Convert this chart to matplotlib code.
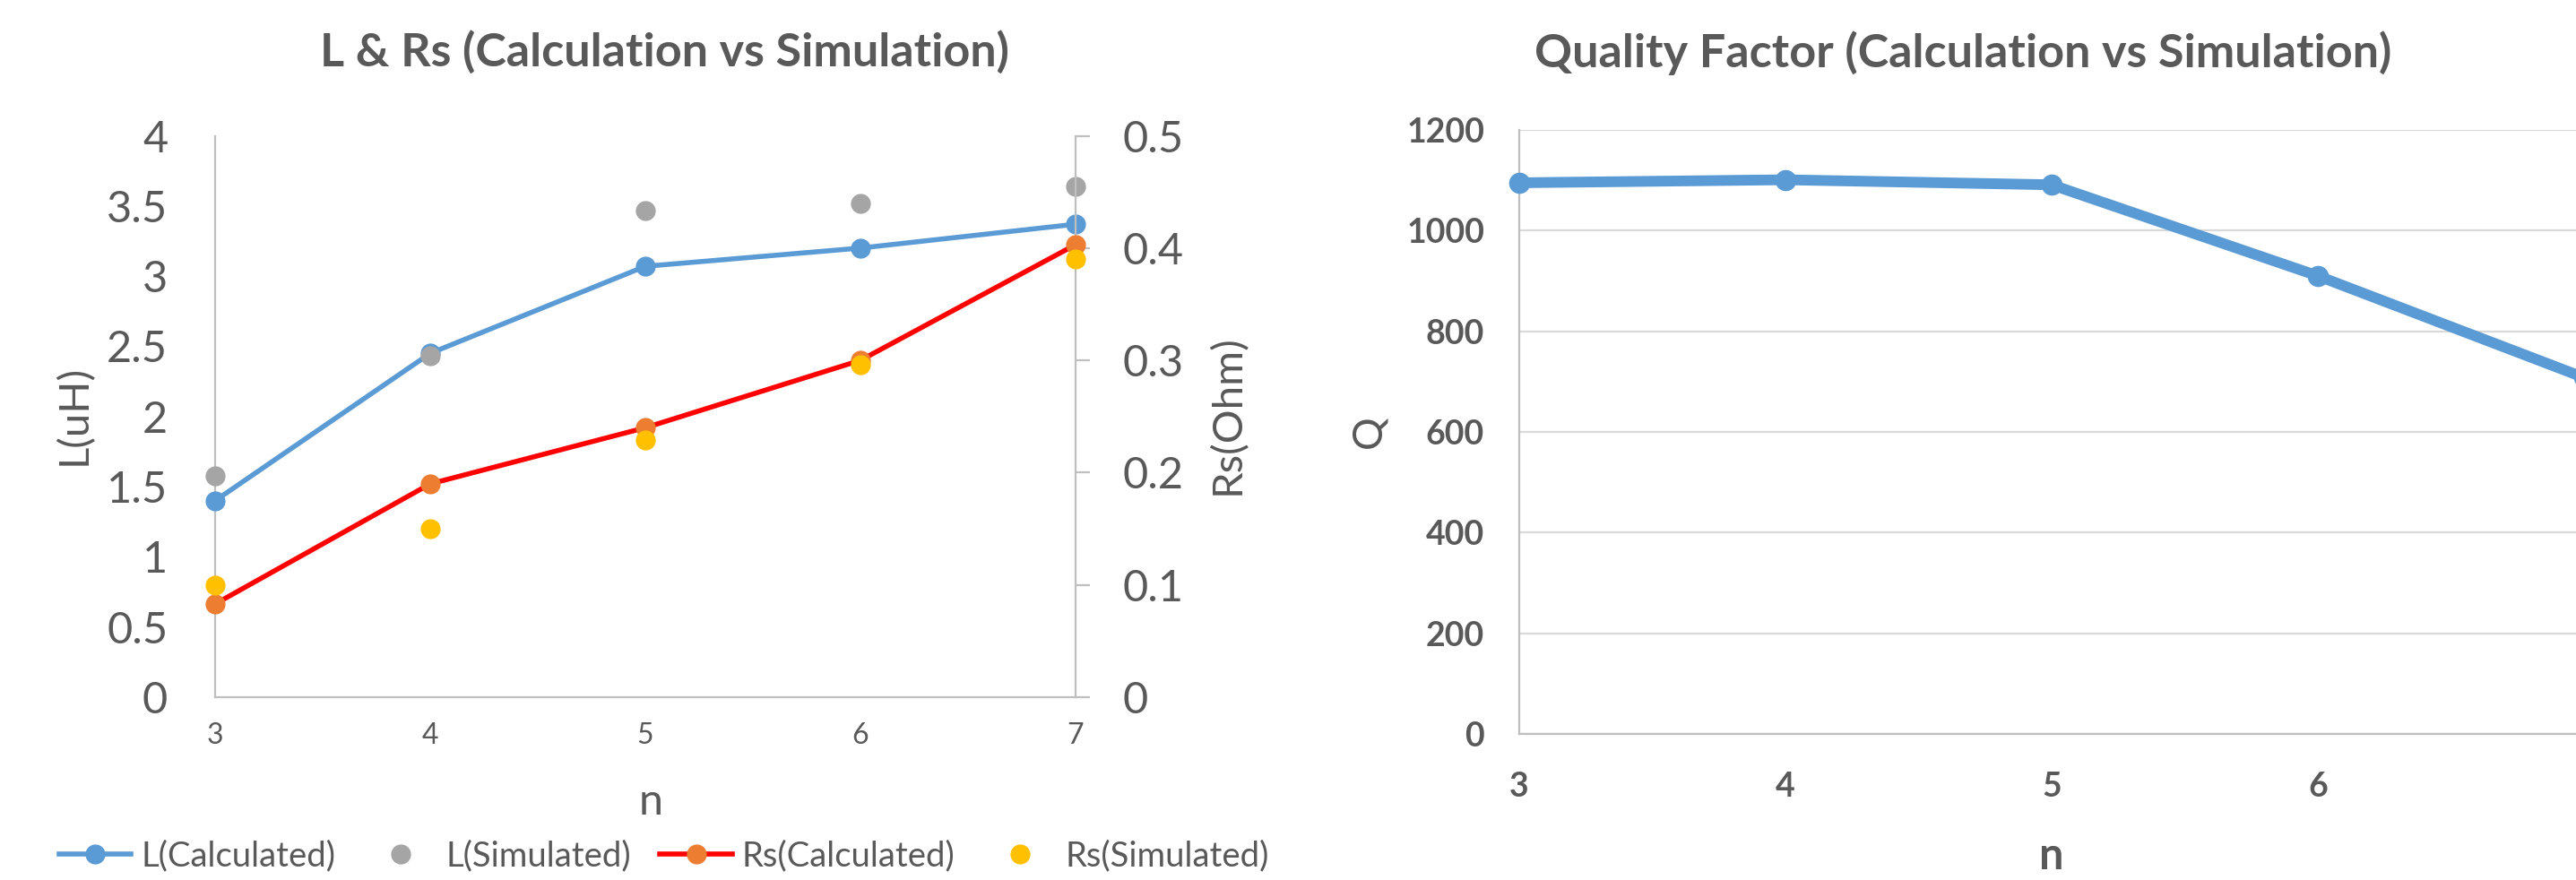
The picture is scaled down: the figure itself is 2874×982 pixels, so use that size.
import matplotlib
matplotlib.use("Agg")
import matplotlib.pyplot as plt
from matplotlib.lines import Line2D
from matplotlib.ticker import FuncFormatter

# Data
n_values = [3, 4, 5, 6, 7]
L_calculated = [1.40, 2.45, 3.07, 3.20, 3.37]
L_simulated = [1.58, 2.43, 3.47, 3.52, 3.64]
Rs_calculated = [0.083, 0.19, 0.24, 0.30, 0.403]
Rs_simulated = [0.10, 0.15, 0.229, 0.296, 0.39]
Q_values = [1095, 1101, 1091, 910, 708]

L_ticks = [0, 0.5, 1, 1.5, 2, 2.5, 3, 3.5, 4]
Rs_ticks = [0, 0.1, 0.2, 0.3, 0.4, 0.5]
Q_ticks = [0, 200, 400, 600, 800, 1000, 1200]

# Colours
TEXT = "#595959"
AXIS = "#BFBFBF"
GRID = "#D9D9D9"
BLUE = "#5B9BD5"
GREY = "#A5A5A5"
RED = "#FF0000"
ORANGE = "#ED7D31"
YELLOW = "#FFC000"

plt.rcParams['font.family'] = ['Lato', 'DejaVu Sans']
plt.rcParams['text.color'] = TEXT

W, H = 2874, 982
fig = plt.figure(figsize=(W / 100, H / 100), dpi=100)


def gfmt(v, pos):
    return "%g" % v


# ---- Left chart: L & Rs ----
ax1 = fig.add_axes([240 / W, 1 - 778 / H, 960 / W, 626.5 / H])
ax2 = ax1.twinx()

ax1.plot(n_values, L_calculated, color=BLUE, lw=4, marker="o", ms=15,
         clip_on=False, zorder=3)
ax1.plot(n_values, L_simulated, color=GREY, lw=0, marker="o", ms=15,
         clip_on=False, zorder=4)
ax2.plot(n_values, Rs_calculated, color=RED, lw=4, marker="o", ms=15,
         markerfacecolor=ORANGE, markeredgecolor=ORANGE, clip_on=False, zorder=3)
ax2.plot(n_values, Rs_simulated, color=YELLOW, lw=0, marker="o", ms=15,
         clip_on=False, zorder=4)

ax1.set_xlim(3, 7)
ax1.set_ylim(0, 4)
ax2.set_ylim(0, 0.5)
ax1.set_xticks(n_values)
ax1.set_yticks(L_ticks)
ax2.set_yticks(Rs_ticks)
ax1.yaxis.set_major_formatter(FuncFormatter(gfmt))
ax2.yaxis.set_major_formatter(FuncFormatter(gfmt))

for s in ["top", "right"]:
    ax1.spines[s].set_visible(False)
for s in ["top", "left", "bottom"]:
    ax2.spines[s].set_visible(False)
ax1.spines["left"].set_color(AXIS)
ax1.spines["bottom"].set_color(AXIS)
ax2.spines["right"].set_color(AXIS)
for sp in [ax1.spines["left"], ax1.spines["bottom"], ax2.spines["right"]]:
    sp.set_linewidth(1.6)

ax1.tick_params(axis="y", length=0, pad=38, labelsize=35, labelcolor=TEXT)
ax1.tick_params(axis="x", length=0, pad=20, labelsize=23, labelcolor=TEXT)
ax2.tick_params(axis="y", length=11.5, width=1.6, color=AXIS, pad=26,
                labelsize=35, labelcolor=TEXT)

fig.text(741 / W, 1 - 58 / H, "L & Rs (Calculation vs Simulation)",
         ha="center", va="center", fontsize=37.5, fontweight="bold", color=TEXT)
fig.text(82 / W, 1 - 463 / H, "L(uH)", rotation=90, ha="center", va="center",
         fontsize=34, color=TEXT)
fig.text(1369 / W, 1 - 463 / H, "Rs(Ohm)", rotation=90, ha="center",
         va="center", fontsize=34, color=TEXT)
fig.text(726 / W, 1 - 895 / H, "n", ha="center", va="center", fontsize=35,
         color=TEXT)

handles = [
    Line2D([], [], color=BLUE, lw=4, marker="o", ms=15),
    Line2D([], [], color=GREY, lw=0, marker="o", ms=15),
    Line2D([], [], color=RED, lw=4, marker="o", ms=15,
           markerfacecolor=ORANGE, markeredgecolor=ORANGE),
    Line2D([], [], color=YELLOW, lw=0, marker="o", ms=15),
]
labels = ["L(Calculated)", "L(Simulated)", "Rs(Calculated)", "Rs(Simulated)"]
fig.legend(handles, labels, loc="center", bbox_to_anchor=(741 / W, 1 - 955 / H),
           ncol=4, frameon=False, fontsize=27.5, handlelength=2.1,
           handletextpad=0.28, columnspacing=0.85, numpoints=1,
           labelcolor=TEXT)

# ---- Right chart: Quality factor ----
ax3 = fig.add_axes([1695 / W, 1 - 819 / H, 1188 / W, 674 / H])
ax3.plot(n_values, Q_values, color=BLUE, lw=8.6, marker="o", ms=16,
         clip_on=False, zorder=3)
ax3.set_xlim(3, 7)
ax3.set_ylim(0, 1200)
ax3.set_xticks(n_values)
ax3.set_yticks(Q_ticks)
ax3.grid(axis="y", color=GRID, lw=1.6)
ax3.set_axisbelow(True)
for s in ["top", "right"]:
    ax3.spines[s].set_visible(False)
ax3.spines["left"].set_color(AXIS)
ax3.spines["bottom"].set_color(AXIS)
ax3.spines["left"].set_linewidth(1.6)
ax3.spines["bottom"].set_linewidth(1.6)
ax3.tick_params(axis="y", length=0, pad=28, labelsize=27, labelcolor=TEXT)
ax3.tick_params(axis="x", length=0, pad=30, labelsize=27, labelcolor=TEXT)
for lab in ax3.get_xticklabels() + ax3.get_yticklabels():
    lab.set_fontweight("bold")

fig.text(2190 / W, 1 - 59 / H, "Quality Factor (Calculation vs Simulation)",
         ha="center", va="center", fontsize=37.5, fontweight="bold", color=TEXT)
fig.text(1527 / W, 1 - 482 / H, "Q", rotation=90, ha="center", va="center",
         fontsize=33, color=TEXT)
fig.text(2289 / W, 1 - 955 / H, "n", ha="center", va="center", fontsize=35,
         fontweight="bold", color=TEXT)

fig.savefig("out.png", dpi=100)
